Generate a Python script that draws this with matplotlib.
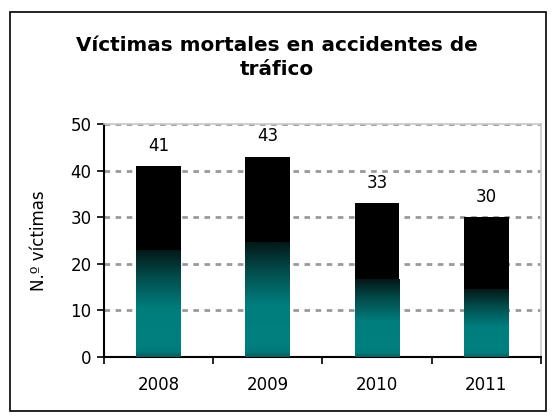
import numpy as np
import matplotlib
matplotlib.use('Agg')
import matplotlib.pyplot as plt
from matplotlib.colors import LinearSegmentedColormap
from matplotlib.patches import Rectangle

# datos
years = ['2008', '2009', '2010', '2011']
victims = [41, 43, 33, 30]

# fracción de la barra donde termina el degradado (estilo)
fade_at = [0.56, 0.57, 0.505, 0.48]

plt.rcParams.update({
    "font.family": "DejaVu Sans",
})

fig = plt.figure(figsize=(5.53, 4.16), dpi=100)
ax = fig.add_axes([0.188, 0.142, 0.79, 0.56])

x = np.arange(len(years))
bars = ax.bar(x, victims, width=0.41, color='black', edgecolor='none', zorder=3)

# degradado: teal abajo -> casi negro en el corte
grad_cmap = LinearSegmentedColormap.from_list('tealblack', [
    (0.00, '#0b5c5c'),
    (0.05, '#007a7a'),
    (0.12, '#008080'),
    (0.45, '#007e7e'),
    (0.75, '#034c4c'),
    (1.00, '#031818'),
])
grad = np.linspace(0, 1, 256).reshape(-1, 1)
for b, fa in zip(bars, fade_at):
    x0, w, h = b.get_x(), b.get_width(), b.get_height()
    im = ax.imshow(grad, cmap=grad_cmap, origin='lower', aspect='auto',
                   extent=(x0, x0 + w, 0, h * fa), zorder=4, interpolation='bilinear')
    im.set_clip_path(b)
    ax.annotate(str(int(h)), (x0 + w / 2, h),
                xytext=(0, 8), textcoords='offset points',
                ha='center', va='bottom', fontsize=12)

ax.set_xlim(-0.5, len(years) - 0.5)
ax.set_ylim(0, 50)
ax.set_yticks(range(0, 51, 10))
ax.set_xticks(x)
ax.set_xticklabels(years)
ax.set_xticks(np.arange(-0.5, len(years), 1), minor=True)
ax.tick_params(axis='x', which='major', length=0, pad=14, labelsize=12)
ax.tick_params(axis='x', which='minor', length=5, width=1.2, direction='out')
ax.tick_params(axis='y', length=5, width=1.2, labelsize=12, pad=4)

ax.yaxis.grid(True, linestyle=(0, (2, 2)), color='#999999', linewidth=2)
ax.set_axisbelow(True)
for s in ['top', 'right']:
    ax.spines[s].set_color('#c8c8c8')
    ax.spines[s].set_linewidth(1.2)
for s in ['left', 'bottom']:
    ax.spines[s].set_linewidth(1.5)

ax.set_ylabel('N.º víctimas', fontsize=12, labelpad=16)

fig.text(0.5, 0.862, 'Víctimas mortales en accidentes de\ntráfico',
         ha='center', va='center', fontsize=14.4, fontweight='bold',
         linespacing=1.35)

# borde exterior
fig.patches.append(Rectangle((0.018, 0.013), 0.969, 0.958, transform=fig.transFigure,
                             fill=False, edgecolor='black', linewidth=1.2))

fig.savefig('out.png', dpi=100)
